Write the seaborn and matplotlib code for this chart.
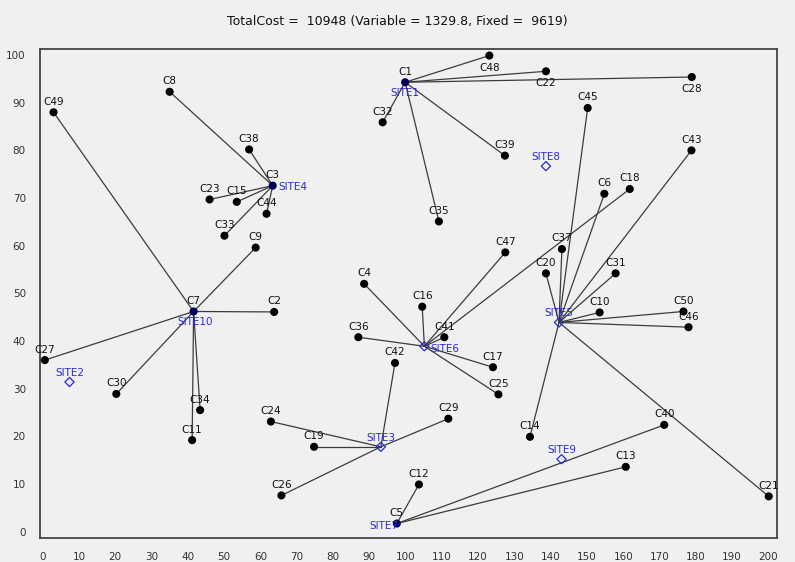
import matplotlib
matplotlib.use("Agg")
import matplotlib.pyplot as plt
import seaborn as sns
import pandas as pd
from matplotlib.ticker import MultipleLocator

# ---------------- data ----------------
cust_names = ["C1", "C2", "C3", "C4", "C5", "C6", "C7", "C8", "C9", "C10",
              "C11", "C12", "C13", "C14", "C15", "C16", "C17", "C18", "C19", "C20",
              "C21", "C22", "C23", "C24", "C25", "C26", "C27", "C28", "C29", "C30",
              "C31", "C32", "C33", "C34", "C35", "C36", "C37", "C38", "C39", "C40",
              "C41", "C42", "C43", "C44", "C45", "C46", "C47", "C48", "C49", "C50"]
cust_x = [99.9, 63.8, 63.4, 88.6, 97.6, 154.8, 41.6, 35.0, 58.7, 153.5,
          41.2, 103.7, 160.7, 134.3, 53.5, 104.6, 124.1, 161.8, 74.8, 138.7,
          200.1, 138.7, 46.0, 62.9, 125.6, 65.8, 0.6, 178.9, 111.8, 20.3,
          157.9, 93.7, 50.1, 43.4, 109.2, 87.0, 143.1, 56.9, 127.4, 171.3,
          110.7, 97.1, 178.8, 61.7, 150.2, 178.0, 127.5, 123.1, 3.0, 176.6]
cust_y = [94.3, 46.1, 72.6, 52.0, 1.7, 70.9, 46.2, 92.3, 59.6, 46.0,
          19.2, 9.9, 13.6, 19.9, 69.2, 47.2, 34.5, 71.9, 17.8, 54.2,
          7.4, 96.6, 69.7, 23.1, 28.8, 7.6, 36.0, 95.4, 23.7, 28.9,
          54.2, 85.9, 62.1, 25.5, 65.1, 40.8, 59.3, 80.2, 78.9, 22.4,
          40.8, 35.4, 80.0, 66.7, 88.9, 42.9, 58.6, 99.9, 88.0, 46.2]
cust_site = ["SITE1", "SITE10", "SITE4", "SITE6", "SITE7", "SITE5", "SITE10", "SITE4", "SITE10", "SITE5",
             "SITE10", "SITE7", "SITE7", "SITE5", "SITE4", "SITE6", "SITE6", "SITE6", "SITE3", "SITE5",
             "SITE5", "SITE1", "SITE4", "SITE3", "SITE6", "SITE3", "SITE10", "SITE1", "SITE3", "SITE10",
             "SITE5", "SITE1", "SITE4", "SITE10", "SITE1", "SITE6", "SITE5", "SITE4", "SITE1", "SITE7",
             "SITE6", "SITE3", "SITE5", "SITE4", "SITE5", "SITE5", "SITE6", "SITE1", "SITE10", "SITE5"]

site_names = ["SITE1", "SITE2", "SITE3", "SITE4", "SITE5",
              "SITE6", "SITE7", "SITE8", "SITE9", "SITE10"]
site_x = [99.9, 7.4, 93.2, 63.4, 142.3, 105.2, 97.6, 138.7, 143.0, 41.6]
site_y = [94.3, 31.4, 17.8, 72.6, 43.9, 38.9, 1.7, 76.7, 15.2, 46.2]

title_text = "TotalCost =  10948 (Variable = 1329.8, Fixed =  9619)"

# ---------------- styling ----------------
sns.set_style("white")
plt.rcParams["font.family"] = ["DejaVu Sans"]
BG = "#f0f0f0"
LINE = "#3c3c3c"
BLUE = "#2a2ad0"
NAVY = "#00005a"

cust = pd.DataFrame({"name": cust_names, "x": cust_x, "y": cust_y, "site": cust_site})
sites = pd.DataFrame({"name": site_names, "x": site_x, "y": site_y})
site_pos = {n: (sx, sy) for n, sx, sy in zip(site_names, site_x, site_y)}

def is_colocated(px, py):
    return any(abs(px - sx) < 0.01 and abs(py - sy) < 0.01 for sx, sy in zip(site_x, site_y))

cust["kind"] = ["site" if is_colocated(x, y) else "cust" for x, y in zip(cust_x, cust_y)]
sites["colocated"] = [any(abs(sx - cx) < 0.01 and abs(sy - cy) < 0.01
                          for cx, cy in zip(cust_x, cust_y))
                      for sx, sy in zip(site_x, site_y)]

rows = []
for i, r in cust.iterrows():
    sx, sy = site_pos[r["site"]]
    rows.append({"edge": i, "x": sx, "y": sy})
    rows.append({"edge": i, "x": r["x"], "y": r["y"]})
edges = pd.DataFrame(rows)

fig = plt.figure(figsize=(7.95, 5.62), dpi=100, facecolor=BG)
ax = fig.add_axes([0.050, 0.043, 0.927, 0.870])
ax.set_facecolor(BG)

sns.lineplot(data=edges, x="x", y="y", units="edge", estimator=None, sort=False,
             color=LINE, lw=0.9, legend=False, ax=ax)

sns.scatterplot(data=sites[~sites["colocated"]], x="x", y="y", marker="D", s=22,
                facecolor="none", edgecolor=BLUE, linewidth=0.9, ax=ax, zorder=3)

sns.scatterplot(data=cust, x="x", y="y", hue="kind",
                palette={"cust": "black", "site": NAVY},
                s=34, edgecolor="none", legend=False, ax=ax, zorder=4)

FS = 7.5
below = {"C48", "C22", "C28"}
for n, x, y in zip(cust_names, cust_x, cust_y):
    if n in below:
        ax.annotate(n, (x, y), xytext=(0, -5), textcoords="offset points",
                    ha="center", va="top", fontsize=FS, color="#111111", zorder=5)
    else:
        ax.annotate(n, (x, y), xytext=(0, 4), textcoords="offset points",
                    ha="center", va="bottom", fontsize=FS, color="#111111", zorder=5)

site_label_style = {
    "SITE1": ((0, -4), "center", "top"),
    "SITE10": ((1, -4), "center", "top"),
    "SITE4": ((4, -1), "left", "center"),
    "SITE6": ((4, -2), "left", "center"),
    "SITE7": ((1, -2), "right", "center"),
}
for n, x, y in zip(site_names, site_x, site_y):
    off, ha, va = site_label_style.get(n, ((0, 3), "center", "bottom"))
    ax.annotate(n, (x, y), xytext=off, textcoords="offset points",
                ha=ha, va=va, fontsize=FS, color=BLUE, zorder=5)

ax.set_xlim(-0.8, 202.3)
ax.set_ylim(-1.3, 101.3)
ax.xaxis.set_major_locator(MultipleLocator(10))
ax.xaxis.set_minor_locator(MultipleLocator(2))
ax.yaxis.set_major_locator(MultipleLocator(10))
ax.yaxis.set_minor_locator(MultipleLocator(2))
ax.tick_params(which="major", direction="out", length=4, width=0.8,
               labelsize=7.5, colors="#333333", pad=6)
ax.tick_params(which="minor", direction="out", length=2.5, width=0.6, colors="#333333")
ax.set_xlabel("")
ax.set_ylabel("")
for s in ax.spines.values():
    s.set_color("#444444")
    s.set_linewidth(1.3)

fig.text(0.5, 0.962, title_text, ha="center", va="center", fontsize=9, color="#111111")

fig.savefig("out.png", dpi=100, facecolor=BG)
